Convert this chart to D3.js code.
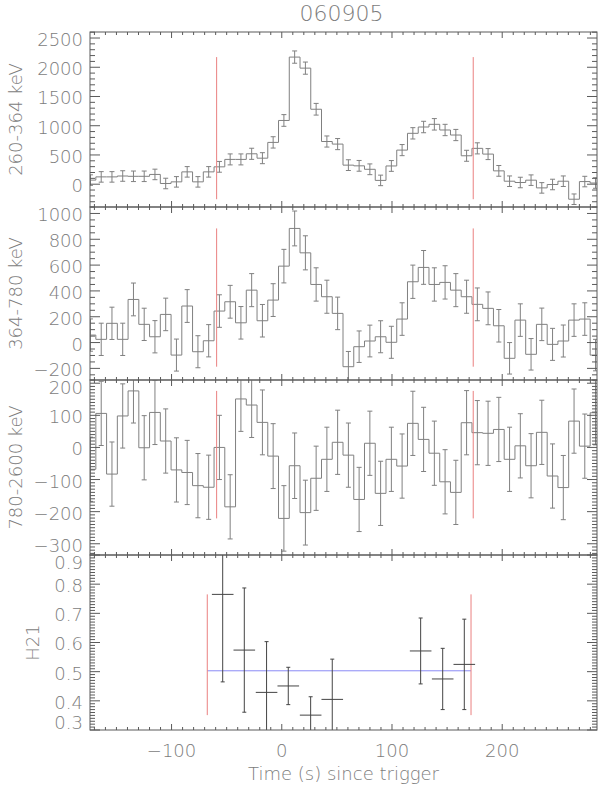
<!DOCTYPE html>
<html><head><meta charset="utf-8">
<script src="https://cdn.jsdelivr.net/npm/d3@7/dist/d3.min.js"></script>
<style>
body{margin:0;background:#fff;}
svg{display:block;}
text{font-family:"DejaVu Sans",sans-serif;font-weight:200;fill:#7c7c7c;}
</style></head><body>
<svg id="chart" width="600" height="788"></svg>
<script>
// ---------------- data ----------------
const chartTitle = "060905";
const xTitle = "Time (s) since trigger";
const binStart = -178.45;   // s, left edge of first bin
const binWidth = 9.75;      // s

const band1Label = "260-364 keV";
const band1 = [70,125,125,140,135,135,167,12,40,211,40,211,297,424,424,520,445,715,1090,2174,1985,1282,730,686,326,314,255,65,312,583,870,978,1024,927,841,486,613,515,228,51,29,69,-63,-5,51,-257,45,20];
const band1Err = [90,90,90,90,90,90,90,90,90,90,90,90,92,94,94,95,94,97,100,105,104,100,95,95,92,92,92,90,92,95,97,98,98,97,96,94,95,94,92,90,90,90,90,90,90,90,90,90];

const band2Label = "364-780 keV";
const band2 = [58,25,149,25,334,141,45,218,-97,283,-71,14,244,316,153,406,169,329,592,884,695,450,355,226,-187,-32,12,45,2,182,471,582,450,466,406,355,296,265,130,-122,174,-91,141,-14,12,174,182,-97];
const band2Err = [125,125,125,125,127,125,125,126,124,127,124,125,126,127,126,128,126,127,130,135,132,129,128,126,118,122,123,124,124,126,129,131,129,129,128,128,127,127,126,122,126,122,126,124,124,126,126,122];

const band3Label = "780-2600 keV";
const band3 = [-68,106,-83,98,176,-1,109,20,-70,-78,-119,-124,0,-185,151,132,78,-27,-221,-57,-203,-96,-37,16,-24,-162,13,-143,-37,-58,75,25,-18,-107,-140,77,46,44,56,-37,5,-57,47,-89,-125,82,4,108];
const band3Err = [100,100,100,100,100,100,100,100,100,100,100,100,100,100,101,101,101,101,102,102,101,100,100,100,100,100,100,100,100,100,100,100,100,100,100,100,100,100,100,100,100,100,100,100,100,100,100,100];

const h21Label = "H21";
const h21Time = [-53.6,-34.0,-13.8,5.9,26.2,45.8,126.0,146.0,165.6];
const h21HalfWidth = [9.8,9.8,9.8,9.8,9.8,9.8,9.8,9.8,9.8];
const h21 = [0.765,0.574,0.429,0.451,0.351,0.405,0.571,0.475,0.525];
const h21Err = [0.30,0.213,0.174,0.064,0.063,0.138,0.113,0.105,0.155];
const h21Mean = 0.503;
const h21Window = [-67.6,171.7];
const countWindow = [-59.1,173.7];

const xDomain = [-174,286];
const xTickValues = [-100,0,100,200];
const yTicks1 = [0,500,1000,1500,2000,2500];
const yTicks2 = [-200,0,200,400,600,800,1000];
const yTicks3 = [-300,-200,-100,0,100,200];
const yTicks4 = [0.3,0.4,0.5,0.6,0.7,0.8,0.9];

// ---------------- layout ----------------
const svg = d3.select("#chart");
const L = 90, R = 597;
const x = d3.scaleLinear().domain(xDomain).range([L,R]);
const axisColor = "#5a5a5a", histColor = "#808080", redColor = "#ea8080", blueColor = "#8a8af5";

const panels = [
  {top:32, bottom:207, domain:[-390,2603], ticks:yTicks1, minor:100, label:band1Label, labelX:16, vals:band1, errs:band1Err, fmt:d3.format("d")},
  {top:207, bottom:380, domain:[-290,1050], ticks:yTicks2, minor:50, label:band2Label, labelX:16, vals:band2, errs:band2Err, fmt:d3.format("d")},
  {top:380, bottom:555, domain:[-335,210], ticks:yTicks3, minor:10, label:band3Label, labelX:16, vals:band3, errs:band3Err, fmt:d3.format("d")},
  {top:555, bottom:730, domain:[0.3,0.9], ticks:yTicks4, minor:0.01, label:h21Label, labelX:33, fmt:d3.format(".1f")}
];

const binEdges = band1.map((_,i)=>binStart+i*binWidth);

panels.forEach((p,pi)=>{
  const y = d3.scaleLinear().domain(p.domain).range([p.bottom,p.top]);
  const clipId = "clip"+pi;
  svg.append("clipPath").attr("id",clipId).append("rect")
    .attr("x",L).attr("y",p.top).attr("width",R-L).attr("height",p.bottom-p.top);
  const g = svg.append("g").attr("clip-path",`url(#${clipId})`);

  if (p.vals) {
    const pts = [];
    p.vals.forEach((v,i)=>{ pts.push([binEdges[i],v]); pts.push([binEdges[i]+binWidth,v]); });
    g.append("path").attr("d", d3.line().x(d=>x(d[0])).y(d=>y(d[1]))(pts))
      .attr("fill","none").attr("stroke",histColor).attr("stroke-width",1);
    p.vals.forEach((v,i)=>{
      const cx = x(binEdges[i]+binWidth/2);
      const y1 = y(v-p.errs[i]), y2 = y(v+p.errs[i]);
      g.append("line").attr("x1",cx).attr("x2",cx).attr("y1",y1).attr("y2",y2).attr("stroke",histColor);
      [y1,y2].forEach(yy=>g.append("line").attr("x1",cx-2.5).attr("x2",cx+2.5).attr("y1",yy).attr("y2",yy).attr("stroke",histColor));
    });
    const ext = d3.extent(p.vals);
    countWindow.forEach(t=>{
      g.append("line").attr("x1",x(t)).attr("x2",x(t)).attr("y1",y(ext[0])).attr("y2",y(ext[1]))
        .attr("stroke",redColor).attr("stroke-width",1);
    });
  } else {
    g.append("line").attr("x1",x(h21Window[0])).attr("x2",x(h21Window[1]))
      .attr("y1",y(h21Mean)).attr("y2",y(h21Mean)).attr("stroke",blueColor);
    const ext = d3.extent(h21);
    h21Window.forEach(t=>{
      g.append("line").attr("x1",x(t)).attr("x2",x(t)).attr("y1",y(ext[0])).attr("y2",y(ext[1]))
        .attr("stroke",redColor);
    });
    h21.forEach((v,i)=>{
      const cx = x(h21Time[i]), cy = y(v);
      g.append("line").attr("x1",x(h21Time[i]-h21HalfWidth[i])).attr("x2",x(h21Time[i]+h21HalfWidth[i]))
        .attr("y1",cy).attr("y2",cy).attr("stroke","#444");
      const y1 = y(v-h21Err[i]), y2 = y(v+h21Err[i]);
      g.append("line").attr("x1",cx).attr("x2",cx).attr("y1",y1).attr("y2",y2).attr("stroke","#444");
      [y1,y2].forEach(yy=>g.append("line").attr("x1",cx-2).attr("x2",cx+2).attr("y1",yy).attr("y2",yy).attr("stroke","#444"));
    });
  }

  svg.append("rect").attr("x",L).attr("y",p.top).attr("width",R-L).attr("height",p.bottom-p.top)
    .attr("fill","none").attr("stroke",axisColor).attr("stroke-width",1);

  const tg = svg.append("g").attr("stroke",axisColor).attr("stroke-width",1);
  const xMinor = d3.range(-170,290,10).filter(t=>t>=xDomain[0]&&t<=xDomain[1]);
  xMinor.forEach(t=>{
    const len = xTickValues.includes(t)?6:3;
    tg.append("line").attr("x1",x(t)).attr("x2",x(t)).attr("y1",p.bottom).attr("y2",p.bottom-len);
    tg.append("line").attr("x1",x(t)).attr("x2",x(t)).attr("y1",p.top).attr("y2",p.top+len);
  });
  const nMinor = Math.round((p.domain[1]-p.domain[0])/p.minor);
  const firstMinor = Math.ceil(p.domain[0]/p.minor - 1e-9);
  d3.range(firstMinor, firstMinor+nMinor+1).map(k=>k*p.minor)
    .filter(v=>v>=p.domain[0]-1e-9&&v<=p.domain[1]+1e-9)
    .forEach(v=>{
      const isMajor = p.ticks.some(t=>Math.abs(t-v)<p.minor*0.01);
      const len = isMajor?10:5;
      tg.append("line").attr("x1",L).attr("x2",L+len).attr("y1",y(v)).attr("y2",y(v));
      tg.append("line").attr("x1",R).attr("x2",R-len).attr("y1",y(v)).attr("y2",y(v));
    });
  // y tick labels, kept inside the panel's vertical extent
  p.ticks.forEach(t=>{
    const ly = Math.max(p.top+7.5, Math.min(p.bottom-7, y(t)+1.5));
    svg.append("text").attr("x",83).attr("y",ly).attr("dy","0.36em")
      .attr("text-anchor","end").attr("font-size",18).text(p.fmt(t));
  });
  const cy = (p.top+p.bottom)/2;
  svg.append("text").attr("transform",`translate(${p.labelX},${cy}) rotate(-90)`)
    .attr("text-anchor","middle").attr("dy","0.36em").attr("font-size",18).text(p.label);
});

const fmtX = d3.format("d");
xTickValues.forEach(t=>{
  svg.append("text").attr("x",x(t)).attr("y",757).attr("text-anchor","middle")
    .attr("font-size",18).text(fmtX(t));
});
svg.append("text").attr("x",(L+R)/2).attr("y",780).attr("text-anchor","middle")
  .attr("font-size",18).text(xTitle);
svg.append("text").attr("x",341.5).attr("y",21).attr("text-anchor","middle")
  .attr("font-size",22).text(chartTitle);
</script>
</body></html>
